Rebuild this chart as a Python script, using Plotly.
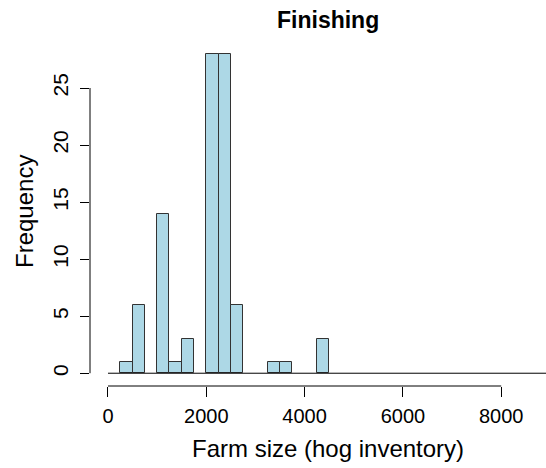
import plotly.graph_objects as go

# Histogram data (bin width 250, counts)
bin_edges = [i * 250 for i in range(37)]  # 0 .. 9000
counts = [0, 1, 6, 0, 14, 1, 3, 0, 28, 28, 6, 0, 0, 1, 1, 0, 0, 3] + [0] * 18
x_ticks = [0, 2000, 4000, 6000, 8000]
y_ticks = [0, 5, 10, 15, 20, 25]

title_text = "Finishing"
x_label = "Farm size (hog inventory)"
y_label = "Frequency"

centers = [(bin_edges[i] + bin_edges[i + 1]) / 2 for i in range(len(counts))]
widths = [bin_edges[i + 1] - bin_edges[i] for i in range(len(counts))]
nz = [i for i, c in enumerate(counts) if c > 0]

FONT = "Liberation Sans, Arial, sans-serif"
W, H = 546, 468
ML, MR, MT, MB = 90, 0, 41, 82
pw = W - ML - MR
ph = H - MT - MB

fig = go.Figure()
# baseline (zero-height bins drawn as a line, like R's hist)
fig.add_trace(go.Scatter(
    x=[bin_edges[0], bin_edges[-1]], y=[0, 0], mode="lines",
    line=dict(color="black", width=1), hoverinfo="skip", showlegend=False))
fig.add_trace(go.Bar(
    x=[centers[i] for i in nz], y=[counts[i] for i in nz],
    width=[widths[i] for i in nz],
    marker=dict(color="#ADD8E6", line=dict(color="#333333", width=1)),
    showlegend=False))

def px_x(p):
    return (p - ML) / pw

def px_y(p):
    return (H - MB - p) / ph

fig.update_layout(
    width=W, height=H,
    margin=dict(l=ML, r=MR, t=MT, b=MB, pad=0),
    plot_bgcolor="white", paper_bgcolor="white",
    font=dict(family=FONT, color="black", size=20),
    bargap=0,
    xaxis=dict(range=[-366, 8911], tickvals=x_ticks, ticks="outside",
               ticklen=10, tickwidth=1, tickcolor="black",
               showgrid=False, zeroline=False, showline=False,
               tickfont=dict(size=20, family=FONT), ticklabelstandoff=2),
    yaxis=dict(range=[-1.12, 29.12], tickvals=y_ticks, ticks="outside",
               ticklen=9, tickwidth=1, tickcolor="black",
               showgrid=False, zeroline=False, showline=False,
               tickangle=-90,
               tickfont=dict(size=21, family=FONT), ticklabelstandoff=4),
    shapes=[
        dict(type="line", xref="x", yref="paper", x0=x_ticks[0], x1=x_ticks[-1],
             y0=0, y1=0, line=dict(color="black", width=1)),
        dict(type="line", xref="paper", yref="y", x0=0, x1=0,
             y0=y_ticks[0], y1=y_ticks[-1], line=dict(color="black", width=1)),
    ],
    annotations=[
        dict(text="<b>" + title_text + "</b>", xref="paper", yref="paper",
             x=px_x(327.5), y=px_y(20), xanchor="center", yanchor="middle",
             showarrow=False, font=dict(size=23, family=FONT)),
        dict(text=x_label, xref="paper", yref="paper",
             x=px_x(328), y=px_y(448), xanchor="center", yanchor="middle",
             showarrow=False, font=dict(size=24, family=FONT)),
        dict(text=y_label, xref="paper", yref="paper", textangle=-90,
             x=px_x(24), y=px_y(212), xanchor="center", yanchor="middle",
             showarrow=False, font=dict(size=24, family=FONT)),
    ],
)

fig.write_html("out.html")
